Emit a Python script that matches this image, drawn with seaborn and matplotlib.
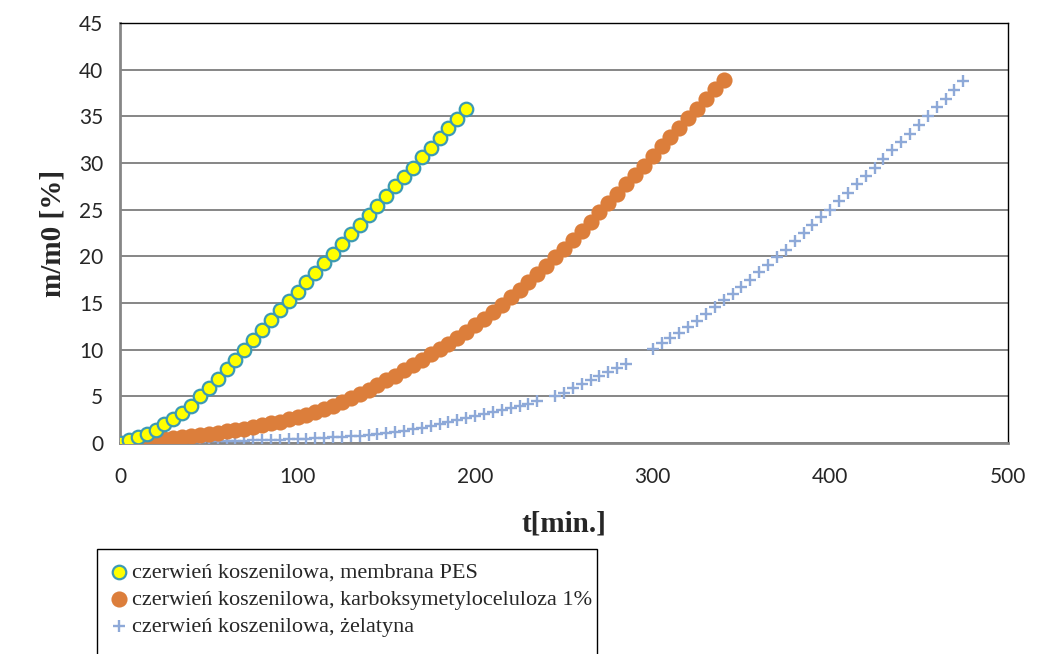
import numpy as np
import pandas as pd
import matplotlib
matplotlib.use("Agg")
import matplotlib.pyplot as plt
from matplotlib.patches import Rectangle
import seaborn as sns

# Time axis [min], every 5 min
t_pes = np.arange(0, 200, 5)
t_cmc = np.arange(0, 345, 5)
t_gel = np.arange(0, 480, 5)

# m/m0 [%]
pes = [0.0, 0.3, 0.6, 1.0, 1.4, 2.0, 2.6, 3.2, 4.0, 5.0,
       5.9, 6.9, 7.9, 8.9, 10.0, 11.0, 12.1, 13.2, 14.2, 15.2,
       16.2, 17.2, 18.2, 19.3, 20.3, 21.3, 22.4, 23.4, 24.4, 25.4,
       26.5, 27.5, 28.5, 29.5, 30.6, 31.6, 32.7, 33.7, 34.7, 35.8]
cmc = [0.0, 0.05, 0.15, 0.25, 0.35, 0.45, 0.55, 0.65, 0.75, 0.85,
       1.0, 1.1, 1.25, 1.4, 1.55, 1.7, 1.9, 2.1, 2.3, 2.55,
       2.8, 3.05, 3.35, 3.65, 4.0, 4.4, 4.8, 5.2, 5.7, 6.2,
       6.7, 7.2, 7.8, 8.35, 8.9, 9.5, 10.1, 10.6, 11.3, 11.9,
       12.6, 13.3, 14.0, 14.8, 15.6, 16.4, 17.2, 18.1, 19.0, 19.9,
       20.8, 21.8, 22.7, 23.7, 24.7, 25.7, 26.7, 27.7, 28.7, 29.7,
       30.7, 31.8, 32.8, 33.8, 34.8, 35.8, 36.9, 37.9, 38.9]
gel = [0.0, 0.0, 0.02, 0.04, 0.06, 0.08, 0.1, 0.12, np.nan, 0.15,
       0.17, 0.19, 0.21, 0.23, 0.25, 0.28, 0.31, 0.34, 0.37, 0.4,
       0.44, 0.48, 0.52, 0.57, 0.62, 0.67, 0.73, 0.8, 0.88, 0.96,
       1.05, 1.15, 1.3, 1.45, 1.6, 1.8, 2.0, 2.2, 2.45, 2.7,
       2.9, 3.1, 3.35, 3.55, 3.75, 3.95, 4.2, 4.45, np.nan, 5.0,
       5.4, 5.85, 6.3, 6.75, 7.2, 7.6, 8.05, 8.5, np.nan, np.nan,
       10.1, 10.7, 11.25, 11.8, 12.4, 13.1, 13.8, 14.6, 15.3, 16.0,
       16.75, 17.5, 18.35, 19.1, 19.95, 20.7, 21.6, 22.5, 23.35, 24.2,
       25.0, 25.9, 26.8, 27.7, 28.6, 29.5, 30.4, 31.4, 32.3, 33.1,
       34.1, 35.0, 36.0, 36.9, 37.8, 38.8]

labels = ["czerwień koszenilowa, membrana PES",
          "czerwień koszenilowa, karboksymetyloceluloza 1%",
          "czerwień koszenilowa, żelatyna"]
x_ticks = [0, 100, 200, 300, 400, 500]
y_ticks = [0, 5, 10, 15, 20, 25, 30, 35, 40, 45]

sns.set_style("white")
fig = plt.figure(figsize=(10.4, 6.54), dpi=100)
ax = fig.add_axes([0.1154, 0.3226, 0.8536, 0.6422])

gel_df = pd.DataFrame({"t": t_gel, "v": gel}).dropna()
sns.scatterplot(data=gel_df, x="t", y="v", marker="+", s=80, color="#8EA9D8",
                linewidth=1.7, ax=ax, label=labels[2], zorder=3)
sns.scatterplot(x=t_cmc, y=cmc, marker="o", s=135, color="#DC7E3B",
                edgecolor="#DC7E3B", linewidth=0, ax=ax, label=labels[1], zorder=4)
sns.scatterplot(x=t_pes, y=pes, marker="o", s=95, color="#FFFF00",
                edgecolor="#3C9AB4", linewidth=1.6, ax=ax, label=labels[0], zorder=5)

ax.set_xlim(0, 500)
ax.set_ylim(0, 45)
ax.set_xticks(x_ticks)
ax.set_yticks(y_ticks)
ax.grid(axis="y", color="#868686", linewidth=1.4)
ax.grid(axis="x", visible=False)
ax.set_axisbelow(True)
ax.tick_params(length=0, labelsize=15)
ax.tick_params(axis="x", pad=17)
ax.tick_params(axis="y", pad=12)
for lab in ax.get_xticklabels() + ax.get_yticklabels():
    lab.set_fontfamily("Lato")
for side in ["left", "bottom"]:
    ax.spines[side].set_color("#868686")
    ax.spines[side].set_linewidth(2.0)
for side in ["top", "right"]:
    ax.spines[side].set_color("black")
    ax.spines[side].set_linewidth(1.0)

ax.set_xlabel("t[min.]", fontfamily="Liberation Serif", fontweight="bold",
              fontsize=21, labelpad=17)
ax.set_ylabel("m/m0 [%]", fontfamily="Liberation Serif", fontweight="bold",
              fontsize=21, labelpad=9)

handles, hlabels = ax.get_legend_handles_labels()
order = [2, 1, 0]
leg = ax.legend([handles[i] for i in order], [hlabels[i] for i in order],
                loc="upper left", bbox_to_anchor=(0.103, 0.141),
                bbox_transform=fig.transFigure, frameon=False,
                prop={"family": "Liberation Serif", "size": 16},
                handletextpad=0.0, borderpad=0.0, labelspacing=0.3,
                handlelength=1.1, borderaxespad=0)
# legend box runs off the bottom edge of the picture
fig.patches.append(Rectangle((97 / 1040, -0.05), 500 / 1040, 0.05 + 105 / 654,
                             transform=fig.transFigure, fill=False,
                             edgecolor="black", linewidth=1.0))

fig.savefig("out.png", dpi=100)
